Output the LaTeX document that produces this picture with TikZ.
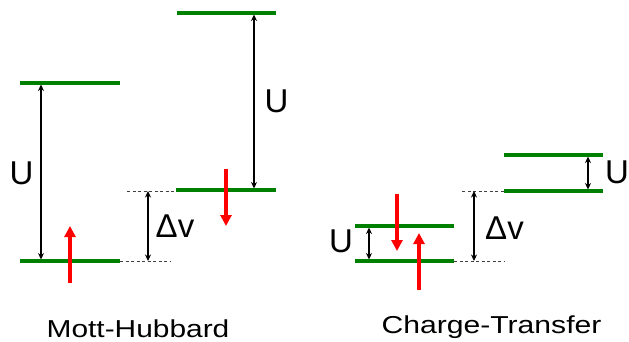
\documentclass[tikz,border=0pt]{standalone}
\usepackage{fontspec}
\setmainfont{Liberation Sans}
\usetikzlibrary{arrows.meta}
\definecolor{levelgreen}{RGB}{0,128,0}
\definecolor{spinred}{RGB}{255,0,0}
\begin{document}
\begin{tikzpicture}[x=1pt,y=-1pt,
  level/.style={draw=levelgreen, line width=3.4pt},
  gap/.style={draw=black, line width=1.1pt, {Stealth[length=6.5pt,width=6pt]}-{Stealth[length=6.5pt,width=6pt]}},
  spin/.style={draw=spinred, line width=3.4pt, -{Triangle[length=11pt,width=11pt]}},
  guide/.style={draw=black!75, line width=0.7pt, dash pattern=on 3pt off 2.5pt},
  lab/.style={font=\fontsize{33}{33}\selectfont, inner sep=0pt},
  title/.style={font=\fontsize{24.5}{24.5}\selectfont, inner sep=0pt, anchor=base}
]
\useasboundingbox (0,0) rectangle (629,341);

% ---- Mott-Hubbard levels ----
\coordinate (mhLowA) at (20,261);   \coordinate (mhLowB) at (120,261);
\coordinate (mhUpA)  at (20,83);    \coordinate (mhUpB)  at (120,83);
\coordinate (mhMidA) at (176,190);  \coordinate (mhMidB) at (276,190);
\coordinate (mhTopA) at (177,13);   \coordinate (mhTopB) at (276,13);
\draw[level] (mhLowA) -- (mhLowB);
\draw[level] (mhUpA) -- (mhUpB);
\draw[level] (mhMidA) -- (mhMidB);
\draw[level] (mhTopA) -- (mhTopB);

% guides
\coordinate (mhGlowEnd) at (170,261.5);
\coordinate (mhGupStart) at (127,191);
\draw[guide] (120,261.5) -- (mhGlowEnd);
\draw[guide] (mhGupStart) -- (176,191);

% gap arrows
\coordinate (mhU1a) at (41,84.5);  \coordinate (mhU1b) at (41,259.5);
\draw[gap] (mhU1a) -- (mhU1b);
\coordinate (mhDa) at (148,191);   \coordinate (mhDb) at (148,261);
\draw[gap] (mhDa) -- (mhDb);
\coordinate (mhU2a) at (254,14.5); \coordinate (mhU2b) at (254,188.5);
\draw[gap] (mhU2a) -- (mhU2b);

% spins
\coordinate (mhSpinUpA) at (70,283);  \coordinate (mhSpinUpB) at (70,226);
\draw[spin] (mhSpinUpA) -- (mhSpinUpB);
\coordinate (mhSpinDnA) at (226,169); \coordinate (mhSpinDnB) at (226,226);
\draw[spin] (mhSpinDnA) -- (mhSpinDnB);

% labels
\node[lab] (mhUleft) at (21.5,173.5) {U};
\node[lab] (mhUright) at (276.5,101.5) {U};
\node[lab] (mhDv) at (175,226) {Δv};
\node[title] (mhTitle) at (138,337) {\scalebox{1.22}[1]{Mott-Hubbard}};

% ---- Charge-Transfer levels ----
\coordinate (ctLowA) at (355,261);  \coordinate (ctLowB) at (454,261);
\coordinate (ctUpA)  at (355,226);  \coordinate (ctUpB)  at (454,226);
\coordinate (ctMidA) at (504,191);  \coordinate (ctMidB) at (603,191);
\coordinate (ctTopA) at (504,155);  \coordinate (ctTopB) at (603,155);
\draw[level] (ctLowA) -- (ctLowB);
\draw[level] (ctUpA) -- (ctUpB);
\draw[level] (ctMidA) -- (ctMidB);
\draw[level] (ctTopA) -- (ctTopB);

% guides
\draw[guide] (ctLowB) ++(0,0.5) -- (505,261.5);
\draw[guide] (462,191) -- (ctMidA);

% gap arrows
\coordinate (ctU1a) at (369,227.5); \coordinate (ctU1b) at (369,259.5);
\draw[gap] (ctU1a) -- (ctU1b);
\coordinate (ctDa) at (474,191);    \coordinate (ctDb) at (474,261);
\draw[gap] (ctDa) -- (ctDb);
\coordinate (ctU2a) at (588,156.5); \coordinate (ctU2b) at (588,189.5);
\draw[gap] (ctU2a) -- (ctU2b);

% spins
\coordinate (ctSpinDnA) at (397,194); \coordinate (ctSpinDnB) at (397,251);
\draw[spin] (ctSpinDnA) -- (ctSpinDnB);
\coordinate (ctSpinUpA) at (419,290); \coordinate (ctSpinUpB) at (419,233);
\draw[spin] (ctSpinUpA) -- (ctSpinUpB);

% labels
\node[lab] (ctUleft) at (341,241.5) {U};
\node[lab] (ctUright) at (617,172.5) {U};
\node[lab] (ctDv) at (504.5,228.5) {Δv};
\node[title] (ctTitle) at (491.5,333) {\scalebox{1.23}[1]{Charge-Transfer}};
\end{tikzpicture}
\end{document}
